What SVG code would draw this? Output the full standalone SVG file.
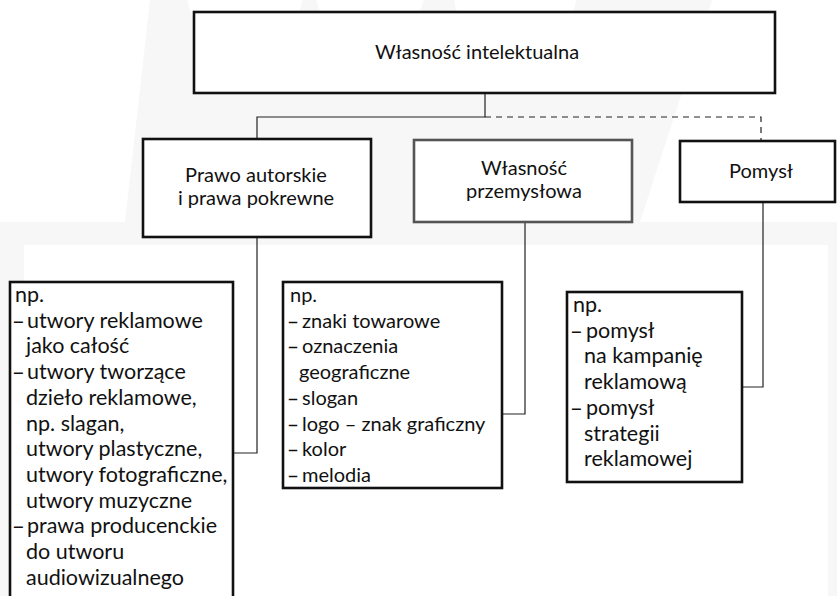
<svg xmlns="http://www.w3.org/2000/svg" width="837" height="596" viewBox="0 0 837 596">
  <style>
    .box { fill: #ffffff; stroke: #111111; stroke-width: 2.6; }
    .box-gray { fill: #ffffff; stroke: #555555; stroke-width: 2.6; }
    .conn { fill: none; stroke: #222222; stroke-width: 1.2; }
    .dash { fill: none; stroke: #222222; stroke-width: 1.2; stroke-dasharray: 6 5; }
    text { font-family: Lato, "Open Sans", "Noto Sans", sans-serif; font-size: 20px; fill: #111111; }
    .big { font-size: 21.5px; }
    .c { text-anchor: middle; }
    .d { font-family: "Open Sans", "Noto Sans", sans-serif; }
    .wm { fill: #f7f7f7; }
  </style>
  <g id="watermark">
    <polygon class="wm" points="150,0 712,0 640,222 125,222"/>
    <circle cx="245" cy="-8" r="58" fill="#ffffff"/>
    <circle cx="370" cy="-12" r="55" fill="#ffffff"/>
    <circle cx="515" cy="-10" r="62" fill="#ffffff"/>
    <rect class="wm" x="0" y="222" width="837" height="374"/>
    <rect x="24" y="245" width="804" height="351" fill="#ffffff"/>
  </g>
  <g id="connectors">
    <path class="conn" d="M485 93 V117 H257 V138"/>
    <path class="dash" d="M485 117 H761 V141"/>
    <path class="conn" d="M257 237 V453 H233"/>
    <path class="conn" d="M525 222 V414 H502"/>
    <path class="conn" d="M763 202 V387 H742"/>
  </g>
  <g id="node-wlasnosc-intelektualna">
    <rect class="box" x="194" y="12" width="581" height="81"/>
    <text class="c" x="477" y="59">Własność intelektualna</text>
  </g>
  <g id="node-prawo-autorskie">
    <rect class="box" x="143" y="139" width="228" height="98"/>
    <text class="c" x="256" y="182">Prawo autorskie</text>
    <text class="c" x="256" y="205">i prawa pokrewne</text>
  </g>
  <g id="node-wlasnosc-przemyslowa">
    <rect class="box-gray" x="414" y="140" width="218" height="82"/>
    <text class="c" x="524" y="175">Własność</text>
    <text class="c" x="524" y="198">przemysłowa</text>
  </g>
  <g id="node-pomysl">
    <rect class="box" x="680" y="141" width="155" height="61"/>
    <text class="c" x="761" y="178">Pomysł</text>
  </g>
  <g id="list-prawo-autorskie">
    <rect class="box" x="10" y="282" width="223" height="330"/>
    <text class="big" x="15" y="302">np.</text>
    <text class="big"><tspan class="d" x="13" y="327.7">–</tspan><tspan x="27" y="327.7">utwory reklamowe</tspan></text>
    <text class="big" x="26" y="353.4">jako całość</text>
    <text class="big"><tspan class="d" x="13" y="379.1">–</tspan><tspan x="27" y="379.1">utwory tworzące</tspan></text>
    <text class="big" x="26" y="404.8">dzieło reklamowe,</text>
    <text class="big" x="26" y="430.5">np. slagan,</text>
    <text class="big" x="26" y="456.2">utwory plastyczne,</text>
    <text class="big" x="26" y="481.9">utwory fotograficzne,</text>
    <text class="big" x="26" y="507.6">utwory muzyczne</text>
    <text class="big"><tspan class="d" x="13" y="533.3">–</tspan><tspan x="27" y="533.3">prawa producenckie</tspan></text>
    <text class="big" x="26" y="559">do utworu</text>
    <text class="big" x="26" y="584.7">audiowizualnego</text>
  </g>
  <g id="list-wlasnosc-przemyslowa">
    <rect class="box" x="283" y="282" width="219" height="206"/>
    <text x="290" y="302">np.</text>
    <text><tspan class="d" x="288" y="327.7">–</tspan><tspan x="302" y="327.7">znaki towarowe</tspan></text>
    <text><tspan class="d" x="288" y="353.4">–</tspan><tspan x="302" y="353.4">oznaczenia</tspan></text>
    <text x="299" y="379.1">geograficzne</text>
    <text><tspan class="d" x="288" y="404.8">–</tspan><tspan x="302" y="404.8">slogan</tspan></text>
    <text><tspan class="d" x="288" y="430.5">–</tspan><tspan x="302" y="430.5">logo – znak graficzny</tspan></text>
    <text><tspan class="d" x="288" y="456.2">–</tspan><tspan x="302" y="456.2">kolor</tspan></text>
    <text><tspan class="d" x="288" y="481.9">–</tspan><tspan x="302" y="481.9">melodia</tspan></text>
  </g>
  <g id="list-pomysl">
    <rect class="box" x="567" y="292" width="175" height="190"/>
    <text class="big" x="573" y="312">np.</text>
    <text class="big"><tspan class="d" x="571" y="337.7">–</tspan><tspan x="586" y="337.7">pomysł</tspan></text>
    <text class="big" x="584" y="363.4">na kampanię</text>
    <text class="big" x="584" y="389.1">reklamową</text>
    <text class="big"><tspan class="d" x="571" y="414.8">–</tspan><tspan x="586" y="414.8">pomysł</tspan></text>
    <text class="big" x="584" y="440.5">strategii</text>
    <text class="big" x="584" y="466.2">reklamowej</text>
  </g>
</svg>
